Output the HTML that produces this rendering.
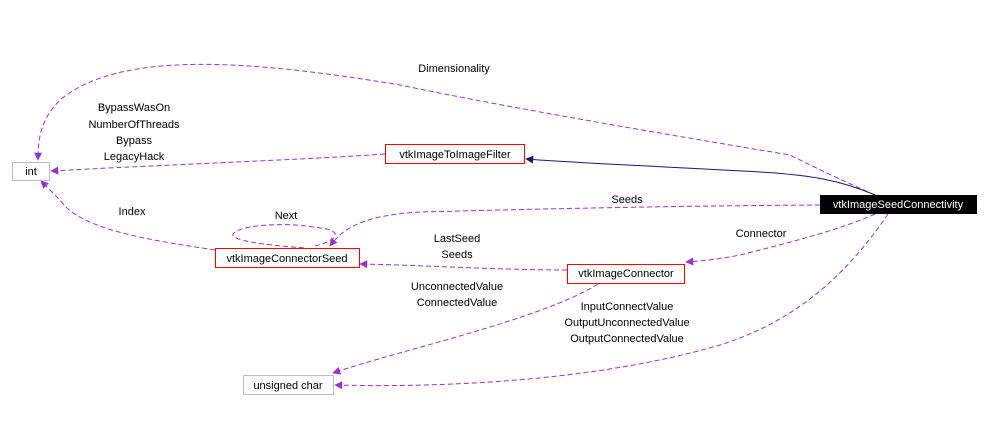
<!DOCTYPE html>
<html><head><meta charset="utf-8"><style>
body{margin:0;background:#fff;width:992px;height:441px;overflow:hidden}
svg text{font-family:"Liberation Sans",sans-serif;font-size:11px;fill:#000}
</style></head><body>
<svg width="992" height="441" viewBox="0 0 992 441" xmlns="http://www.w3.org/2000/svg">
<defs>
<marker id="p" viewBox="0 0 10 10" refX="9" refY="5" markerWidth="10" markerHeight="8" orient="auto" markerUnits="userSpaceOnUse"><path d="M0,0L10,5L0,10z" fill="#9a32cd"/></marker>
<marker id="n" viewBox="0 0 10 10" refX="9" refY="5" markerWidth="10" markerHeight="8" orient="auto" markerUnits="userSpaceOnUse"><path d="M0,0L10,5L0,10z" fill="#191970"/></marker>
</defs>
<g fill="none" stroke="#9a32cd" stroke-dasharray="5,3" stroke-width="1">
<path d="M875,195 C830,175 800,160 790,155 C700,140 520,110 400,85 C250,60 120,50 60,100 C40,120 38,140 38,160" marker-end="url(#p)"/>
<path d="M385,154 C300,160 200,163 51,171" marker-end="url(#p)"/>
<path d="M215,250 C150,240 80,230 60,200 C50,190 45,185 41,181" marker-end="url(#p)"/>
<path d="M820,205 C650,206 500,210 420,212 C370,215 345,225 330,246" marker-end="url(#p)"/>
<path d="M315,246 C340,240 342,230 320,228 C290,222 240,224 233,234 C230,242 280,246 305,248"/>
<path d="M567,270 C500,270 420,265 360,264" marker-end="url(#p)"/>
<path d="M875,214 C840,230 780,245 740,255 C715,260 700,261 686,262" marker-end="url(#p)"/>
<path d="M598,284 C540,320 400,350 333,373" marker-end="url(#p)"/>
<path d="M888,214 C850,270 800,320 720,345 C600,380 450,388 335,385" marker-end="url(#p)"/>
</g>
<path d="M875,195 C840,180 810,175 760,172 C650,166 560,162 526,159" fill="none" stroke="#191970" stroke-width="1" marker-end="url(#n)"/>
<g stroke-width="1">
<rect x="12.5" y="162.5" width="37" height="18" fill="#fff" stroke="#bfbfbf"/>
<rect x="385.5" y="144.5" width="139" height="19" fill="#fff" stroke="#f00"/>
<rect x="820" y="195" width="157" height="19" fill="#000"/>
<rect x="215.5" y="248.5" width="144" height="19" fill="#fff" stroke="#f00"/>
<rect x="567.5" y="264.5" width="117" height="19" fill="#fff" stroke="#f00"/>
<rect x="243.5" y="375.5" width="90" height="19" fill="#fff" stroke="#bfbfbf"/>
</g>
<g text-anchor="middle">
<text x="31" y="175">int</text>
<text x="455" y="158">vtkImageToImageFilter</text>
<text x="898" y="208" style="fill:#fff">vtkImageSeedConnectivity</text>
<text x="287" y="262">vtkImageConnectorSeed</text>
<text x="626" y="277">vtkImageConnector</text>
<text x="288" y="389">unsigned char</text>
<text x="454" y="72">Dimensionality</text>
<text x="134" y="111">BypassWasOn</text>
<text x="134" y="128">NumberOfThreads</text>
<text x="134" y="144">Bypass</text>
<text x="134" y="160">LegacyHack</text>
<text x="132" y="215">Index</text>
<text x="286" y="219">Next</text>
<text x="627" y="203">Seeds</text>
<text x="761" y="237">Connector</text>
<text x="457" y="242">LastSeed</text>
<text x="457" y="258">Seeds</text>
<text x="457" y="290">UnconnectedValue</text>
<text x="457" y="306">ConnectedValue</text>
<text x="627" y="310">InputConnectValue</text>
<text x="627" y="326">OutputUnconnectedValue</text>
<text x="627" y="342">OutputConnectedValue</text>
</g>
</svg>
</body></html>
